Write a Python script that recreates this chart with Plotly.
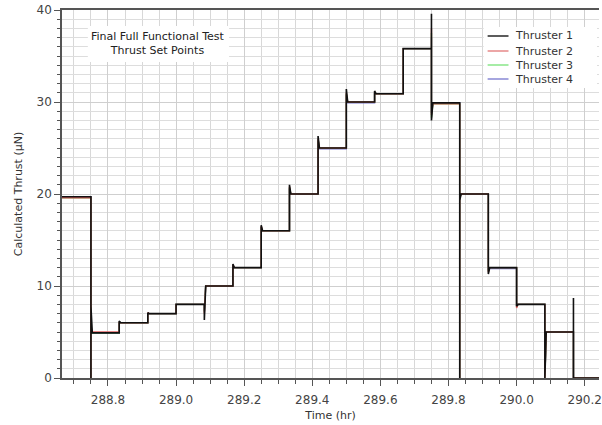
import plotly.graph_objects as go

# ---- data ----
t_start = 288.665
t_end = 290.242
switch_times = [288.75, 288.833, 288.917, 289.0, 289.083, 289.167, 289.25, 289.333,
                289.417, 289.5, 289.583, 289.667, 289.75, 289.833, 289.917, 290.0,
                290.083, 290.167]
# settled level before first switch, then after each switch
levels_t1 = [19.7, 4.9, 6.0, 7.0, 8.0, 10.0, 12.0, 16.0, 20.0, 25.0, 30.0, 30.9, 35.8,
             29.9, 20.0, 12.0, 8.0, 5.0, 0.0]
levels_t2 = [19.6, 5.0, 6.0, 7.0, 8.0, 10.0, 12.0, 16.0, 20.0, 25.0, 30.0, 30.9, 35.8,
             29.8, 20.0, 12.0, 8.0, 5.0, 0.0]
levels_t3 = [19.6, 4.9, 6.0, 7.0, 8.0, 10.0, 12.0, 16.0, 20.0, 25.0, 30.0, 30.9, 35.8,
             29.8, 20.0, 12.0, 8.0, 5.0, 0.0]
levels_t4 = [19.7, 4.9, 6.0, 7.0, 8.0, 10.0, 12.0, 16.0, 20.0, 24.9, 29.9, 30.9, 35.8,
             29.9, 20.0, 11.9, 8.0, 5.0, 0.0]
# transient excursions right after each switch
trans_t1 = [[0, 7.8], [6.2], [7.1], [], [6.3], [12.4], [16.6], [21.0], [26.3], [31.4],
            [31.2], [], [39.6, 28.0], [0, 19.3], [11.3], [7.8], [0], [8.7, 0]]
trans_t2 = [[0, 5.6], [6.1], [7.1], [], [7.0], [12.3], [16.5], [20.8], [26.0], [31.0],
            [31.1], [], [38.0, 28.6], [0, 19.5], [11.5], [7.6], [0], [5.0, 0]]
trans_t3 = [[0, 5.4], [6.1], [7.0], [], [7.2], [12.2], [16.4], [20.7], [25.9], [30.9],
            [31.0], [], [37.5, 28.3], [0, 19.6], [11.6], [7.7], [0], [5.0, 0]]
trans_t4 = [[0, 5.3], [6.1], [7.0], [], [7.3], [12.2], [16.4], [20.6], [25.8], [30.8],
            [31.0], [], [37.0, 28.8], [0, 19.6], [11.7], [7.8], [0], [5.0, 0]]

names = ["Thruster 1", "Thruster 2", "Thruster 3", "Thruster 4"]
colors = ["#111111", "#e06060", "#60d060", "#7070c8"]
legend_colors = ["#333333", "#e89090", "#90e890", "#9090d8"]
all_levels = [levels_t1, levels_t2, levels_t3, levels_t4]
all_trans = [trans_t1, trans_t2, trans_t3, trans_t4]
settle = 0.004

x_ticks = [288.8, 289.0, 289.2, 289.4, 289.6, 289.8, 290.0, 290.2]
x_tick_text = ["288.8", "289.0", "289.2", "289.4", "289.6", "289.8", "290.0", "290.2"]
y_ticks = [0, 10, 20, 30, 40]


def build(levels, trans):
    xs = [t_start]
    ys = [levels[0]]
    for i, t in enumerate(switch_times):
        xs.append(t)
        ys.append(levels[i])
        for v in trans[i]:
            xs.append(t)
            ys.append(v)
        xs.append(t + (settle if trans[i] else 0))
        ys.append(levels[i + 1])
    xs.append(t_end)
    ys.append(levels[-1])
    return xs, ys


fig = go.Figure()
for k in [3, 2, 1, 0]:
    xs, ys = build(all_levels[k], all_trans[k])
    fig.add_trace(go.Scatter(x=xs, y=ys, mode="lines", name=names[k],
                             line=dict(color=colors[k], width=1.6 if k == 0 else 1.4),
                             showlegend=False))

# plot-area geometry in pixels (for placing the legend box in paper coords)
W, H = 602, 425
L, R, T, B = 62, 0, 10, 47
pw, ph = W - L - R, H - T - B


def px(xp):
    return (xp - L) / pw


def py(yp):
    return (H - B - yp) / ph


axis_font = dict(family="DejaVu Sans", size=12, color="#444444")
fig.update_layout(
    width=W, height=H,
    margin=dict(l=L, r=R, t=T, b=B),
    paper_bgcolor="white", plot_bgcolor="white",
    showlegend=False,
    font=axis_font,
)
fig.update_xaxes(
    range=[t_start, t_end], tickvals=x_ticks, ticktext=x_tick_text,
    showgrid=True, gridcolor="#cfcfcf", gridwidth=1,
    ticks="outside", ticklen=6, tickcolor="#555555",
    showline=True, linecolor="#555555", linewidth=1.5, mirror=True,
    minor=dict(dtick=0.05, tick0=288.8, showgrid=True, gridcolor="#d8d8d8",
               ticks="outside", ticklen=4, tickcolor="#555555"),
    zeroline=False, ticklabeloverflow="allow", ticklabelstandoff=4,
    title=dict(text="Time (hr)", font=dict(family="DejaVu Sans", size=11, color="#333333"),
               standoff=5),
    tickfont=axis_font,
)
fig.update_yaxes(
    range=[0, 40], tickvals=y_ticks,
    showgrid=True, gridcolor="#cfcfcf", gridwidth=1,
    ticks="outside", ticklen=6, tickcolor="#555555",
    showline=True, linecolor="#555555", linewidth=1.5,
    minor=dict(dtick=1, showgrid=True, gridcolor="#dddddd",
               ticks="outside", ticklen=3, tickcolor="#555555"),
    zeroline=False,
    title=dict(text="Calculated Thrust (μN)", font=dict(family="DejaVu Sans", size=11, color="#333333"),
               standoff=12),
    tickfont=axis_font,
)

# title box
fig.add_shape(type="rect", xref="paper", yref="paper",
              x0=px(88), x1=px(230), y0=py(62), y1=py(26),
              fillcolor="white", line=dict(width=0), layer="above")
fig.add_annotation(
    xref="paper", yref="paper", x=px(159), y=py(44), xanchor="center", yanchor="middle",
    text="Final Full Functional Test<br>Thrust Set Points", showarrow=False,
    font=dict(family="DejaVu Sans", size=11, color="#222222"),
)

# legend (drawn manually to match the compact spacing)
fig.add_shape(type="rect", xref="paper", yref="paper",
              x0=px(486), x1=px(600), y0=py(88), y1=py(27),
              fillcolor="white", line=dict(width=0), layer="above")
row_y = [36, 51, 65, 79]
for k in range(4):
    fig.add_shape(type="line", xref="paper", yref="paper",
                  x0=px(490), x1=px(511), y0=py(row_y[k]), y1=py(row_y[k]),
                  line=dict(color=legend_colors[k], width=1.6), layer="above")
    fig.add_annotation(xref="paper", yref="paper", x=px(516), y=py(row_y[k]),
                       xanchor="left", yanchor="middle", text=names[k], showarrow=False,
                       font=dict(family="DejaVu Sans", size=11, color="#333333"))

fig.write_html("out.html")
